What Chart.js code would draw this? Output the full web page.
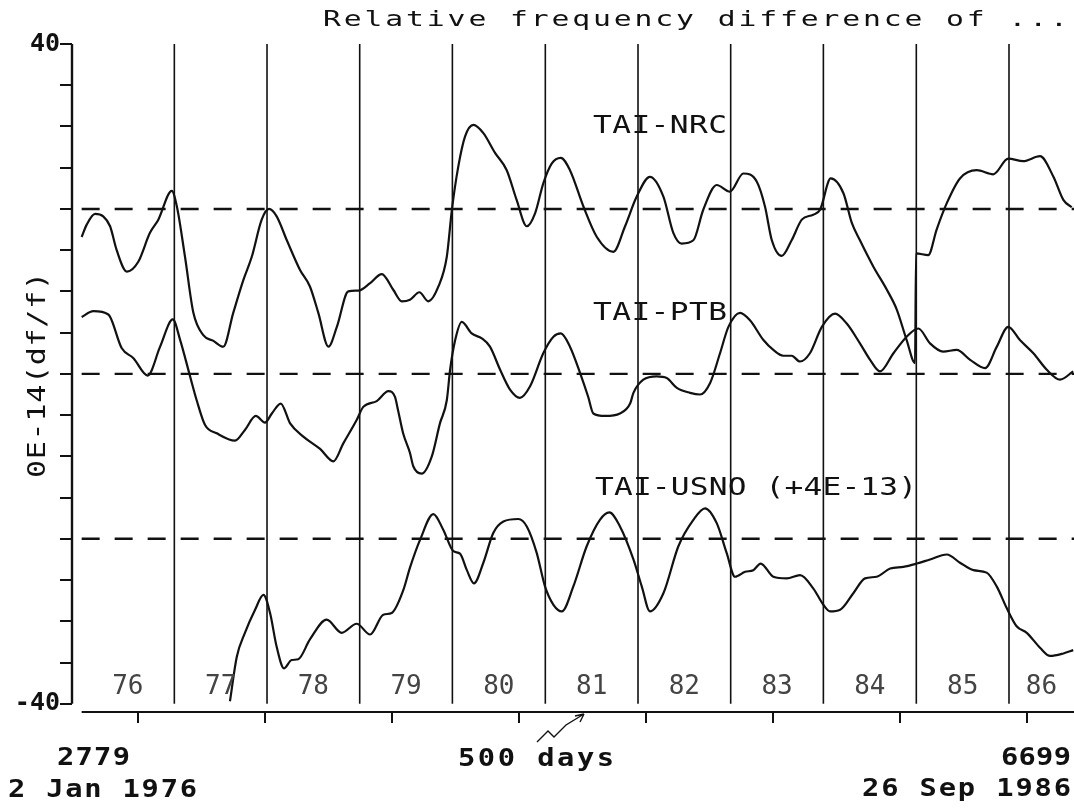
<!DOCTYPE html>
<html>
<head>
<meta charset="utf-8">
<title>Relative frequency difference of ...</title>
<script src="https://cdn.jsdelivr.net/npm/chart.js@4/dist/chart.umd.min.js"></script>
<style>
  html, body { margin: 0; padding: 0; background: #fff; }
  #wrap { width: 1074px; height: 808px; position: relative; }
</style>
</head>
<body>
<div id="wrap"><canvas id="freq-chart"></canvas></div>
<script>
// Data definitions (x = MJD - 40000, y = 1E-14 df/f)

const startDay = 2779;   // 2 Jan 1976
const endDay = 6687;     // right edge of the plot
const axisDay = 2741;    // where the y axis stands

const nrcDays = [2779, 2799, 2832, 2864, 2891, 2917, 2957, 3002, 3048, 3081, 3134, 3154, 3186, 3219, 3258, 3298, 3337, 3376, 3416, 3449, 3488, 3517, 3547, 3587, 3639, 3678, 3711, 3751, 3784, 3829, 3869, 3915, 3961, 4006, 4040, 4072, 4109, 4144, 4184, 4217, 4237, 4262, 4289, 4322, 4361, 4407, 4453, 4492, 4532, 4565, 4597, 4630, 4666, 4702, 4755, 4808, 4873, 4919, 4965, 5017, 5070, 5109, 5142, 5188, 5227, 5280, 5332, 5385, 5438, 5470, 5497, 5536, 5575, 5615, 5660, 5687, 5729, 5779, 5812, 5844, 5897, 5950, 5989, 6028, 6061, 6065, 6113, 6146, 6186, 6238, 6304, 6369, 6428, 6487, 6553, 6606, 6645, 6678];
const nrcValues = [16.6, 18.1, 19.4, 19.1, 17.9, 15.0, 12.4, 13.6, 17.1, 18.7, 22.2, 20.3, 14.2, 7.4, 4.7, 4.0, 3.3, 7.4, 11.4, 14.2, 18.7, 20.0, 19.1, 16.2, 12.6, 10.6, 7.4, 3.3, 5.7, 10.0, 10.1, 11.0, 12.1, 10.2, 8.8, 9.0, 9.9, 8.8, 10.6, 14.2, 19.9, 25.1, 28.8, 30.2, 29.2, 26.8, 24.7, 21.1, 17.9, 19.5, 23.1, 25.5, 26.2, 24.7, 20.3, 16.6, 14.8, 17.9, 21.5, 23.9, 21.5, 17.1, 15.8, 16.2, 19.9, 22.9, 22.1, 24.3, 23.3, 20.3, 16.2, 14.3, 16.2, 18.7, 19.3, 19.9, 23.7, 21.9, 18.3, 16.2, 13.0, 10.2, 7.8, 4.1, 1.3, 14.6, 14.4, 17.5, 20.7, 23.7, 24.7, 24.2, 26.1, 25.8, 26.4, 23.9, 21.1, 20.2];

const ptbDays = [2779, 2825, 2884, 2937, 2983, 3039, 3088, 3138, 3167, 3206, 3232, 3265, 3311, 3383, 3422, 3465, 3501, 3528, 3563, 3600, 3652, 3718, 3770, 3810, 3862, 3888, 3941, 3987, 4013, 4025, 4045, 4072, 4085, 4118, 4158, 4190, 4217, 4230, 4250, 4276, 4315, 4355, 4387, 4427, 4466, 4505, 4545, 4597, 4637, 4666, 4702, 4742, 4774, 4794, 4840, 4899, 4939, 4952, 4991, 5044, 5083, 5123, 5175, 5214, 5254, 5293, 5326, 5372, 5411, 5464, 5503, 5542, 5575, 5608, 5647, 5694, 5746, 5792, 5844, 5884, 5923, 5976, 6028, 6074, 6120, 6172, 6225, 6278, 6337, 6383, 6428, 6474, 6527, 6580, 6632, 6684];
const ptbValues = [6.9, 7.6, 7.2, 3.1, 1.9, -0.2, 3.3, 6.6, 4.1, -0.3, -3.2, -6.2, -7.2, -8.1, -6.8, -5.1, -5.9, -4.8, -3.6, -6.0, -7.6, -9.1, -10.6, -8.4, -5.6, -4.0, -3.3, -2.1, -2.8, -4.4, -7.2, -9.6, -11.2, -12.1, -10.0, -6.0, -3.2, 0.5, 4.1, 6.3, 4.9, 4.3, 3.3, 0.5, -1.9, -2.9, -1.5, 2.5, 4.5, 4.9, 3.3, 0.1, -2.8, -4.8, -5.1, -4.8, -3.6, -2.3, -0.7, -0.3, -0.5, -1.7, -2.3, -2.5, -1.1, 2.5, 5.7, 7.4, 6.5, 4.1, 2.9, 2.2, 2.2, 1.5, 2.5, 5.7, 7.3, 6.1, 3.7, 1.7, 0.3, 2.5, 4.5, 5.5, 3.7, 2.7, 2.9, 1.7, 0.7, 3.3, 5.7, 4.1, 2.5, 0.5, -0.7, 0.3];

const usnoDays = [3363, 3390, 3422, 3462, 3495, 3521, 3547, 3576, 3606, 3632, 3678, 3744, 3803, 3862, 3915, 3967, 4000, 4046, 4072, 4112, 4164, 4203, 4243, 4269, 4296, 4324, 4361, 4400, 4440, 4499, 4532, 4571, 4604, 4637, 4670, 4715, 4768, 4820, 4857, 4899, 4952, 4985, 5017, 5070, 5129, 5188, 5234, 5280, 5319, 5352, 5392, 5424, 5453, 5503, 5556, 5608, 5660, 5700, 5726, 5766, 5818, 5864, 5910, 5963, 6015, 6068, 6120, 6186, 6238, 6291, 6343, 6383, 6422, 6461, 6501, 6553, 6593, 6645, 6684];
const usnoValues = [-39.7, -34.3, -31.4, -28.6, -26.8, -29.0, -33.1, -35.7, -34.7, -34.6, -32.2, -29.8, -31.4, -30.3, -31.6, -29.2, -29.0, -26.2, -23.5, -20.1, -17.0, -18.9, -21.5, -21.8, -23.8, -25.4, -22.9, -19.3, -17.9, -17.6, -18.5, -21.7, -25.8, -28.0, -28.8, -25.8, -20.9, -17.7, -16.8, -18.5, -22.5, -25.8, -28.8, -26.6, -20.9, -17.7, -16.3, -18.1, -21.7, -24.6, -24.0, -23.8, -23.0, -24.6, -24.8, -24.4, -26.0, -28.0, -28.8, -28.6, -26.6, -24.8, -24.6, -23.6, -23.4, -23.0, -22.5, -21.9, -22.9, -23.8, -24.1, -25.8, -28.4, -30.6, -31.4, -33.2, -34.2, -33.9, -33.5];

// zero levels of the three curves (dashed)
const refLevels = [20, 0, -20];
const seriesNames = ['TAI-NRC', 'TAI-PTB', 'TAI-USNO (+4E-13)'];

// 1 Jan of 1977 .. 1986, and the year names written between them
const yearStarts = [3144, 3509, 3874, 4239, 4605, 4970, 5335, 5700, 6066, 6431];
const yearLabels = ['76', '77', '78', '79', '80', '81', '82', '83', '84', '85', '86'];
const firstJan1976 = 2778;

const xTickDays = [3000, 3500, 4000, 4500, 5000, 5500, 6000, 6500];
const yTickValues = [-40, -35, -30, -25, -20, -15, -10, -5, 0, 5, 10, 15, 20, 25, 30, 35, 40];

const MONO = "'DejaVu Sans Mono', 'Liberation Mono', monospace";
const INK = '#111';

function toPoints(days, values) {
  return days.map((d, i) => ({ x: d, y: values[i] }));
}

// plotter lettering: wide glyphs (sx) stretched to a given width by letter spacing
function spacedText(ctx, text, left, y, width, sx) {
  sx = sx || 1;
  ctx.save();
  ctx.translate(left, y);
  ctx.scale(sx, 1);
  ctx.letterSpacing = '0px';
  const w0 = ctx.measureText(text).width;
  const ls = text.length > 1 ? (width / sx - w0) / (text.length - 1) : 0;
  ctx.letterSpacing = ls.toFixed(2) + 'px';
  ctx.textAlign = 'left';
  ctx.fillText(text, 0, 0);
  ctx.letterSpacing = '0px';
  ctx.restore();
}

const plotterText = {
  id: 'plotterText',
  afterDraw(chart) {
    const ctx = chart.ctx;
    const xs = chart.scales.x;
    const ys = chart.scales.y;
    const area = chart.chartArea;
    ctx.save();
    ctx.strokeStyle = INK;
    ctx.fillStyle = INK;

    // axis lines
    ctx.lineWidth = 2.4;
    ctx.beginPath();
    ctx.moveTo(area.left, ys.getPixelForValue(40));
    ctx.lineTo(area.left, ys.getPixelForValue(-40));
    ctx.stroke();
    ctx.lineWidth = 2;
    ctx.beginPath();
    ctx.moveTo(xs.getPixelForValue(startDay), area.bottom);
    ctx.lineTo(area.right, area.bottom);
    ctx.stroke();

    ctx.textBaseline = 'middle';

    // title
    ctx.font = '22px ' + MONO;
    spacedText(ctx, 'Relative frequency difference of ...', 323, 20, 745, 1.35);

    // curve names
    ctx.font = '24px ' + MONO;
    spacedText(ctx, seriesNames[0], 593, 127, 134, 1.3);
    spacedText(ctx, seriesNames[1], 593, 314, 134, 1.3);
    spacedText(ctx, seriesNames[2], 595, 489, 322, 1.3);

    // year names
    ctx.font = '26px ' + MONO;
    ctx.fillStyle = '#444';
    ctx.textAlign = 'center';
    const bounds = [firstJan1976].concat(yearStarts, [endDay]);
    yearLabels.forEach((lab, i) => {
      const mid = (bounds[i] + bounds[i + 1]) / 2;
      ctx.fillText(lab, xs.getPixelForValue(mid), 687);
    });
    ctx.fillStyle = INK;

    // y axis title
    ctx.save();
    ctx.translate(38, 375);
    ctx.rotate(-Math.PI / 2);
    ctx.font = '25px ' + MONO;
    spacedText(ctx, '0E-14(df/f)', -103, 0, 206, 1.2);
    ctx.restore();

    // dates under the x axis
    ctx.font = 'bold 25px ' + MONO;
    spacedText(ctx, '2779', 57, 758, 73, 1.15);
    spacedText(ctx, '2 Jan 1976', 8, 790, 189, 1.15);
    spacedText(ctx, '500 days', 458, 759, 156, 1.15);
    spacedText(ctx, '6699', 1001, 758, 70, 1.15);
    spacedText(ctx, '26 Sep 1986', 862, 789, 209, 1.15);

    // hand drawn arrow from "500 days" to the axis
    ctx.lineWidth = 1.4;
    ctx.beginPath();
    ctx.moveTo(537, 742);
    ctx.lineTo(548, 731);
    ctx.lineTo(554, 737);
    ctx.lineTo(566, 725);
    ctx.lineTo(584, 714);
    ctx.moveTo(584, 714);
    ctx.lineTo(575, 716);
    ctx.moveTo(584, 714);
    ctx.lineTo(580, 722);
    ctx.stroke();

    ctx.restore();
  }
};

// Datasets: the three curves, the dashed zero levels and the year separators
const curveStyle = {
  borderColor: INK,
  borderWidth: 2.2,
  pointRadius: 0,
  cubicInterpolationMode: 'monotone',
  fill: false
};

const datasets = [
  Object.assign({ label: seriesNames[0], data: toPoints(nrcDays, nrcValues) }, curveStyle),
  Object.assign({ label: seriesNames[1], data: toPoints(ptbDays, ptbValues) }, curveStyle),
  Object.assign({ label: seriesNames[2], data: toPoints(usnoDays, usnoValues) }, curveStyle)
];

refLevels.forEach(level => {
  datasets.push({
    label: 'zero ' + level,
    data: [{ x: startDay, y: level }, { x: endDay, y: level }],
    borderColor: INK,
    borderWidth: 2.4,
    borderDash: [18, 15],
    pointRadius: 0
  });
});

yearStarts.forEach(day => {
  datasets.push({
    label: 'year ' + day,
    data: [{ x: day, y: -40 }, { x: day, y: 40 }],
    borderColor: INK,
    borderWidth: 1.6,
    pointRadius: 0
  });
});

const chart = new Chart(document.getElementById('freq-chart').getContext('2d'), {
  type: 'line',
  data: { datasets: datasets },
  options: {
    responsive: true,
    maintainAspectRatio: false,
    animation: false,
    layout: { padding: { top: 44, left: 0, right: 0, bottom: 0 } },
    plugins: {
      legend: { display: false },
      tooltip: { enabled: false },
      title: { display: false }
    },
    scales: {
      x: {
        type: 'linear',
        min: axisDay,
        max: endDay,
        border: { display: false },
        grid: { drawOnChartArea: false, drawTicks: true, tickLength: 11, color: INK, lineWidth: 2 },
        ticks: { display: false, autoSkip: false },
        afterBuildTicks: scale => { scale.ticks = xTickDays.map(v => ({ value: v })); },
        afterFit: scale => { scale.height = 96; }
      },
      y: {
        type: 'linear',
        min: -41,
        max: 40,
        border: { display: false },
        grid: { drawOnChartArea: false, drawTicks: true, tickLength: 12, color: INK, lineWidth: 2 },
        ticks: {
          autoSkip: false,
          padding: 0,
          color: INK,
          font: { family: MONO, size: 25, weight: 'bold' },
          callback: v => (v === 40 || v === -40) ? String(v) : ''
        },
        afterBuildTicks: scale => { scale.ticks = yTickValues.map(v => ({ value: v })); },
        afterFit: scale => { scale.width = 72; }
      }
    }
  },
  plugins: [plotterText]
});
</script>
</body>
</html>
